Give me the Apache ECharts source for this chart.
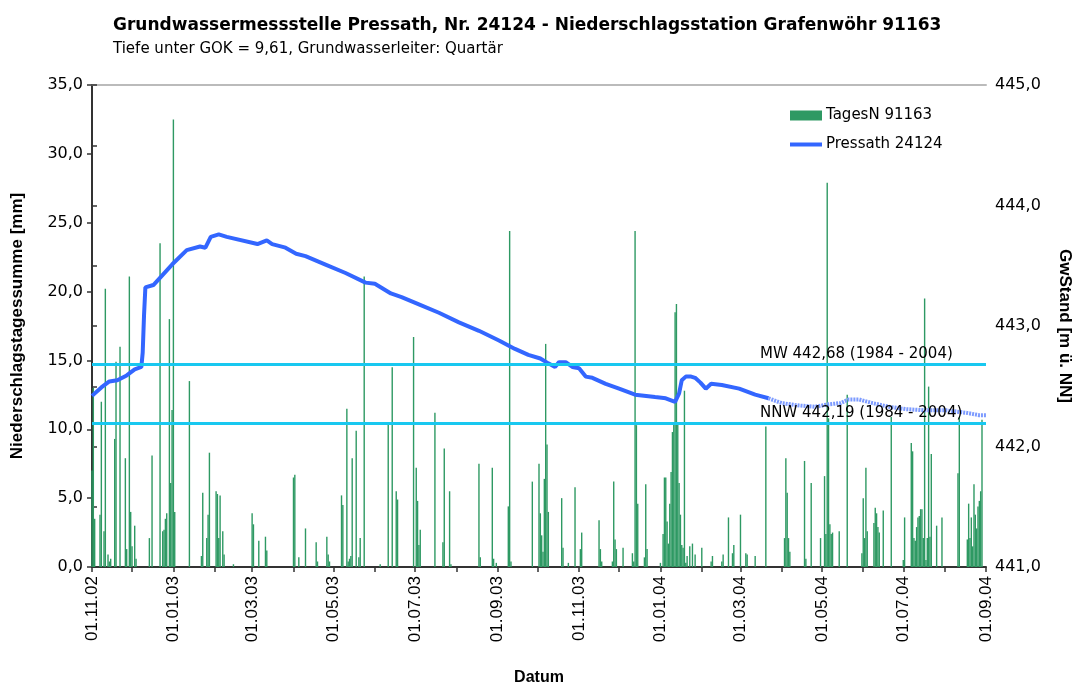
<!DOCTYPE html>
<html>
<head>
<meta charset="utf-8">
<script src="https://cdn.jsdelivr.net/npm/echarts@6/dist/echarts.min.js"></script>
<style>
  html, body { margin: 0; padding: 0; background: #fff; }
  #chart { width: 1073px; height: 684px; }
</style>
</head>
<body>
<div id="chart"></div>
<script>
// days counted from 01.11.2002
const monthTickDays = [0, 30, 61, 92, 120, 151, 181, 212, 242, 273, 304, 334, 365, 395, 426, 457, 486, 517, 547, 578, 608, 639, 670];
const labelDays = [0, 61, 120, 181, 242, 304, 365, 426, 486, 547, 608, 670];
const labelTexts = ['01.11.02', '01.01.03', '01.03.03', '01.05.03', '01.07.03', '01.09.03',
  '01.11.03', '01.01.04', '01.03.04', '01.05.04', '01.07.04', '01.09.04'];
const gwTicks = [441, 441.5, 442, 442.5, 443, 443.5, 444, 444.5, 445];
const gwLabels = [441, 442, 443, 444, 445];

// daily precipitation (only days with rain)
const rainDay = [0, 1, 2, 6, 7, 9, 10, 12, 13, 14, 17, 18, 21, 25, 26, 28, 29, 30, 32, 33,
  43, 45, 51, 53, 54, 55, 56, 58, 59, 60, 61, 62, 73, 82, 83, 86, 87, 88, 93, 94,
  95, 96, 98, 99, 106, 120, 121, 125, 130, 131, 151, 152, 155, 160, 168, 169, 176, 177, 178, 187,
  188, 191, 192, 193, 194, 195, 198, 200, 201, 204, 216, 222, 225, 228, 229, 241, 243, 244, 245, 246,
  257, 263, 264, 268, 269, 290, 291, 300, 301, 303, 312, 313, 314, 330, 335, 336, 337, 338, 339, 340,
  341, 342, 352, 353, 357, 362, 366, 367, 380, 381, 382, 390, 391, 392, 393, 398, 405, 406, 407, 408,
  409, 414, 415, 416, 426, 428, 429, 430, 431, 432, 433, 434, 435, 436, 437, 438, 439, 440, 441, 442,
  443, 444, 445, 446, 448, 450, 452, 457, 464, 465, 472, 473, 477, 480, 481, 486, 490, 491, 497, 505,
  519, 520, 521, 522, 523, 534, 535, 539, 546, 549, 550, 551, 552, 553, 554, 555, 560, 566, 577, 578,
  579, 580, 581, 586, 587, 588, 589, 590, 593, 599, 608, 609, 614, 615, 616, 617, 618, 619, 620, 621,
  622, 623, 624, 625, 626, 627, 628, 629, 633, 637, 649, 650, 656, 657, 658, 659, 660, 661, 662, 663,
  664, 665, 666, 667];
const rainMm = [7.0, 13.0, 3.5, 3.8, 12.0, 2.6, 20.2, 0.9, 0.4, 0.6, 9.3, 14.9, 16.0, 7.9, 1.3, 21.1, 4.0, 1.5, 3.0, 0.6,
  2.1, 8.1, 23.5, 2.6, 2.7, 3.5, 3.9, 18.0, 6.1, 11.4, 32.5, 4.0, 13.5, 0.8, 5.4, 2.1, 3.8, 8.3, 5.5, 5.3,
  2.1, 5.2, 2.6, 0.9, 0.2, 3.9, 3.1, 1.9, 2.2, 1.2, 6.5, 6.7, 0.7, 2.8, 1.8, 0.4, 2.2, 0.9, 0.4, 5.2,
  4.5, 11.5, 0.4, 0.6, 0.8, 7.9, 9.9, 0.7, 2.1, 21.1, 0.2, 10.4, 14.5, 5.5, 4.9, 16.7, 7.2, 4.8, 1.6, 2.7,
  11.2, 1.8, 8.6, 5.5, 0.2, 7.5, 0.7, 7.2, 0.6, 0.3, 4.4, 24.4, 0.4, 6.2, 7.5, 3.9, 2.3, 1.1, 6.4, 16.2,
  8.9, 4.0, 5.0, 1.4, 0.3, 5.8, 1.3, 2.5, 3.4, 1.3, 0.4, 0.4, 6.2, 2.0, 1.3, 1.4, 1.0, 0.4, 24.4, 10.3,
  4.6, 0.7, 6.0, 1.3, 0.3, 2.4, 6.5, 6.5, 3.3, 1.7, 4.6, 6.9, 9.8, 10.4, 18.5, 19.1, 10.5, 6.1, 3.8, 1.6,
  1.4, 12.8, 0.3, 0.8, 1.5, 1.7, 0.9, 1.4, 0.4, 0.8, 0.4, 0.9, 3.6, 1.0, 1.6, 3.8, 1.0, 0.9, 0.8, 10.2,
  2.1, 7.9, 5.4, 2.1, 1.1, 7.7, 0.6, 6.1, 2.1, 6.6, 2.4, 27.9, 10.8, 3.1, 2.4, 2.5, 2.6, 12.5, 1.0, 5.0,
  2.1, 7.2, 2.6, 3.2, 4.3, 3.9, 2.9, 2.5, 4.1, 10.9, 0.5, 3.6, 9.0, 8.4, 2.1, 1.9, 2.9, 3.6, 3.7, 4.2,
  4.2, 2.1, 19.5, 0.5, 2.1, 13.1, 2.2, 8.2, 3.0, 3.6, 6.8, 10.9, 2.0, 4.6, 2.1, 3.6, 1.5, 6.0, 3.8, 2.8,
  4.4, 4.8, 5.5, 10.7];

// groundwater level, checked values
const gwDay = [0, 7, 13, 19, 26, 32, 37, 38, 39, 40, 46, 60, 71, 81, 85, 89, 95, 101, 124, 131,
  135, 145, 153, 160, 175, 190, 205, 212, 224, 232, 245, 260, 275, 290, 305, 317, 327, 336, 342, 347,
  350, 355, 360, 365, 370, 375, 385, 395, 407, 422, 430, 437, 440, 442, 445, 449, 452, 456, 460, 464,
  472, 485, 497, 507];
const gwLevel = [442.42, 442.49, 442.54, 442.55, 442.59, 442.64, 442.66, 442.78, 443.09, 443.32, 443.34, 443.51, 443.63, 443.66, 443.65, 443.74, 443.76, 443.74, 443.68, 443.71,
  443.68, 443.65, 443.60, 443.58, 443.51, 443.44, 443.36, 443.35, 443.27, 443.24, 443.18, 443.11, 443.03, 442.96, 442.88, 442.81, 442.76, 442.73, 442.69, 442.66,
  442.70, 442.70, 442.66, 442.65, 442.58, 442.57, 442.52, 442.48, 442.43, 442.41, 442.40, 442.37, 442.44, 442.55, 442.58, 442.58, 442.57, 442.53, 442.48, 442.52,
  442.51, 442.48, 442.43, 442.40];
// groundwater level, provisional values
const gwDayProv = [507, 517, 530, 542, 552, 561, 567, 575, 585, 597, 610, 625, 640, 655, 665, 670];
const gwLevelProv = [442.40, 442.36, 442.34, 442.33, 442.35, 442.36, 442.39, 442.39, 442.36, 442.33, 442.31, 442.30, 442.30, 442.28, 442.26, 442.26];

const refLevels = [442.68, 442.19];
const refLabels = ['MW 442,68 (1984 - 2004)', 'NNW 442,19 (1984 - 2004)'];

const FONT = '"Liberation Sans", Arial, sans-serif';
const WIDE = '"DejaVu Sans", "Liberation Sans", sans-serif';
const comma = (v) => v.toFixed(1).replace('.', ',');
// legend icon: a 4px line inside a 32x10 box
const LINE_ICON = 'path://M0,0 M0,3 L32,3 L32,7 L0,7 Z M32,10';

const chart = echarts.init(document.getElementById('chart'));

chart.setOption({
  animation: false,
  backgroundColor: '#fff',
  textStyle: { fontFamily: FONT, color: '#000' },
  title: {
    text: 'Grundwassermessstelle Pressath, Nr. 24124 - Niederschlagsstation Grafenwöhr 91163',
    subtext: 'Tiefe unter GOK = 9,61, Grundwasserleiter: Quartär',
    left: 108,
    top: 12,
    itemGap: 8,
    textStyle: { fontFamily: WIDE, fontSize: 17, fontWeight: 'bold', color: '#000' },
    subtextStyle: { fontFamily: WIDE, fontSize: 15, color: '#000' }
  },
  legend: {
    left: 790,
    top: 108,
    padding: 0,
    orient: 'vertical',
    itemWidth: 32,
    itemHeight: 10,
    itemGap: 14,
    textStyle: { fontFamily: WIDE, fontSize: 15, color: '#000', padding: [0, 0, 0, -1] },
    data: [
      { name: 'TagesN 91163', icon: 'rect' },
      { name: 'Pressath 24124', icon: LINE_ICON, itemStyle: { color: '#3366ff' } }
    ]
  },
  grid: { left: 92, right: 87, top: 85, bottom: 117, outerBoundsMode: 'none' },
  xAxis: [
    {
      type: 'value',
      min: 0,
      max: 670,
      position: 'bottom',
      name: 'Datum',
      nameLocation: 'middle',
      nameGap: 103,
      nameTextStyle: { fontFamily: FONT, fontSize: 16, fontWeight: 'bold', color: '#000' },
      axisLine: { show: true, lineStyle: { color: '#333', width: 2 } },
      axisTick: { show: true, customValues: monthTickDays, length: 5, lineStyle: { color: '#333', width: 1.5 } },
      axisLabel: {
        customValues: labelDays,
        rotate: 90,
        margin: 9,
        fontSize: 17,
        color: '#000',
        formatter: (v) => labelTexts[labelDays.indexOf(v)]
      },
      splitLine: { show: false }
    },
    {
      type: 'value',
      min: 0,
      max: 670,
      position: 'top',
      axisLine: { show: true, lineStyle: { color: '#bbb', width: 2 } },
      axisTick: { show: false },
      axisLabel: { show: false },
      splitLine: { show: false }
    }
  ],
  yAxis: [
    {
      type: 'value',
      min: 0,
      max: 35,
      interval: 5,
      position: 'left',
      name: 'Niederschlagstagessumme [mm]',
      nameLocation: 'middle',
      nameGap: 66,
      nameTextStyle: { fontFamily: FONT, fontSize: 17, fontWeight: 'bold', color: '#000' },
      axisLine: { show: true, lineStyle: { color: '#333', width: 2 } },
      axisTick: { show: true, length: 5, lineStyle: { color: '#333', width: 1.5 } },
      axisLabel: { fontFamily: WIDE, fontSize: 16, color: '#000', margin: 9, formatter: comma },
      splitLine: { show: false }
    },
    {
      type: 'value',
      min: 441,
      max: 445,
      position: 'right',
      name: 'GwStand [m ü. NN]',
      nameLocation: 'middle',
      nameGap: 70,
      nameRotate: -90,
      nameTextStyle: { fontFamily: FONT, fontSize: 17, fontWeight: 'bold', color: '#000' },
      axisLine: { show: true, lineStyle: { color: '#333', width: 2 } },
      axisTick: { show: true, customValues: gwTicks, length: 5, lineStyle: { color: '#333', width: 1.5 } },
      axisLabel: { customValues: gwLabels, fontFamily: WIDE, fontSize: 16, color: '#000', margin: 9, formatter: comma },
      splitLine: { show: false }
    }
  ],
  series: [
    {
      name: 'TagesN 91163',
      type: 'bar',
      xAxisIndex: 0,
      yAxisIndex: 0,
      barWidth: 1.4,
      itemStyle: { color: '#2e9963' },
      data: rainDay.map((d, i) => [d, rainMm[i]])
    },
    {
      name: 'Pressath 24124',
      type: 'line',
      xAxisIndex: 0,
      yAxisIndex: 1,
      symbol: 'none',
      lineStyle: { color: '#3366ff', width: 4 },
      itemStyle: { color: '#3366ff' },
      data: gwDay.map((d, i) => [d, gwLevel[i]]),
      markLine: {
        silent: true,
        symbol: 'none',
        lineStyle: { color: '#18c8f0', width: 3, type: 'solid' },
        label: {
          position: 'insideStartTop',
          distance: [668, 3],
          fontFamily: WIDE,
          fontSize: 15,
          color: '#000'
        },
        data: refLevels.map((v, i) => ({ yAxis: v, label: { formatter: refLabels[i] } }))
      },
      z: 3
    },
    {
      name: 'Pressath 24124',
      type: 'line',
      xAxisIndex: 0,
      yAxisIndex: 1,
      symbol: 'none',
      lineStyle: { color: '#7d9bff', width: 4, type: [2, 1] },
      itemStyle: { color: '#3366ff' },
      data: gwDayProv.map((d, i) => [d, gwLevelProv[i]]),
      z: 3
    }
  ]
});
</script>
</body>
</html>
